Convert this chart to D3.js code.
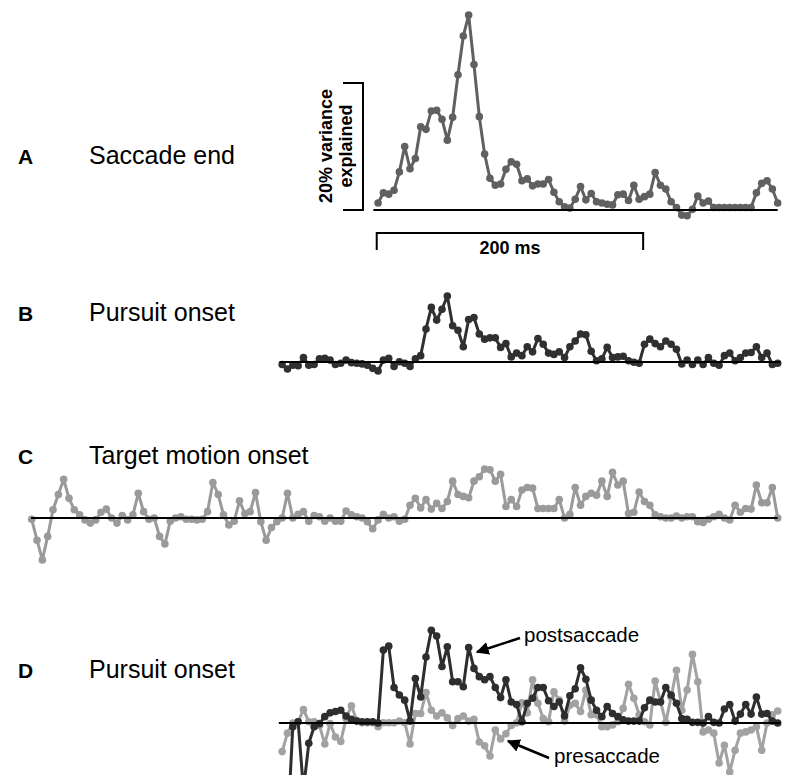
<!DOCTYPE html>
<html>
<head>
<meta charset="utf-8">
<script src="https://cdn.jsdelivr.net/npm/d3@7"></script>
<style>
body { margin: 0; background: #fff; }
svg { display: block; font-family: "Liberation Sans", Arial, sans-serif; }
</style>
</head>
<body>
<div id="chartHolder"></div>
<script>
// bins are 4 ms wide, values are % variance explained
const binMs = 4;
const panelLabels = ["A", "B", "C", "D"];
const panelTitles = ["Saccade end", "Pursuit onset", "Target motion onset", "Pursuit onset"];
const startMs = { saccadeEnd: 260, pursuitOnset: 188, targetOnset: 0, pursuitPre: 188, pursuitPost: 188 };

const saccadeEnd = [1.1, 2.7, 2.5, 3.1, 6.0, 10.0, 6.5, 8.1, 13.1, 12.7,
  15.6, 15.7, 14.3, 11.0, 14.6, 21.3, 27.4, 30.7, 22.9, 14.7,
  8.8, 5.0, 3.9, 4.1, 6.4, 7.6, 7.2, 4.6, 4.9, 3.8,
  4.1, 4.1, 4.8, 2.8, 1.3, 0.5, 0.3, 1.7, 3.7, 1.6,
  2.6, 1.3, 1.1, 0.9, 0.8, 2.4, 2.5, 1.5, 3.9, 1.7,
  2.1, 2.5, 5.9, 3.9, 3.3, 1.3, 0.4, -0.8, -0.9, 0.1,
  2.2, 1.1, 1.4, 0.4, 0.4, 0.4, 0.4, 0.4, 0.4, 0.4,
  0.4, 2.7, 4.2, 4.6, 3.3, 1.1];

const pursuitOnset = [-0.4, -1.1, -0.5, -0.6, 0.7, -0.5, -0.4, 0.5, 0.6, 0.3,
  -0.4, -0.2, 0.3, -0.1, -0.2, -0.3, -0.5, -1.0, -1.4, 0.3,
  0.6, -0.7, 0.05, -0.2, -0.7, 0.5, 1.0, 5.2, 8.6, 6.6,
  8.3, 10.4, 5.7, 5.0, 2.4, 6.7, 7.0, 4.4, 3.6, 3.8,
  3.8, 2.3, 2.9, 0.8, 1.4, 1.0, 2.4, 1.6, 3.7, 2.8,
  1.4, 1.2, 1.6, 0.7, 2.4, 3.3, 4.4, 4.3, 1.7, 0.2,
  0.5, 2.3, 0.7, 0.8, 0.9, 0.2, -0.05, -0.2, 2.8, 3.6,
  2.9, 2.4, 3.3, 2.8, 2.0, -0.3, 0.3, -0.4, 0.3, -0.4,
  0.7, -0.2, -0.5, 1.0, 1.4, 0.2, 0.7, 1.4, 1.5, 2.4,
  0.7, 1.4, -0.4, -0.2];

const targetOnset = [-0.2, -3.5, -6.6, -2.9, 1.3, 3.7, 6.1, 3.1, 1.3, 0.5,
  -0.3, -0.8, -0.3, 0.9, 1.4, 0, -0.8, 0.4, -0.3, 0.5,
  3.9, 1.0, -0.2, 0, -2.9, -4.1, -0.5, 0, 0.2, -0.2,
  -0.2, -0.3, -0.2, 1.0, 5.6, 3.7, 0.5, -1.1, -0.5, 2.7,
  0.7, 1.0, 4.0, -0.6, -3.5, -1.5, -0.6, 0, 3.9, 0,
  0.6, 1.0, -0.5, 0.4, 0.2, -0.5, 0, -0.5, -0.5, 1.1,
  0.5, 0.2, 0, -0.6, -1.7, -0.3, 0.6, 0, 0.2, -0.5,
  -0.2, 2.0, 3.1, 1.6, 2.9, 1.4, 2.3, 1.5, 2.6, 5.8,
  3.7, 3.4, 3.2, 5.8, 6.5, 7.7, 7.6, 5.8, 6.9, 1.8,
  2.9, 1.8, 4.4, 4.8, 4.7, 1.5, 1.5, 1.5, 1.5, 2.9,
  0, 0.6, 4.8, 2.0, 3.4, 3.9, 3.6, 5.8, 3.4, 7.2,
  5.2, 5.8, 0.7, 0.9, 4.1, 2.6, 2.0, 0.5, 0.2, 0,
  0, 0.3, 0, 0.2, 0.2, -0.6, -0.7, -0.2, 0.2, 0.6,
  0, -0.3, 2.0, 0.9, 1.5, 1.4, 5.2, 2.4, 2.4, 4.8, 0];

const pursuitPre = [-4.5, -1.6, 0, 0.2, 2.1, 0.2, 0.2, -0.4, -3.3, -0.1,
  -2.2, -2.9, 0.7, 2.7, 0.4, 0.05, 0.05, 0.05, -0.6, 0.05,
  0.05, 0.05, 0.3, 0.05, -3.3, 1.5, 1.5, 4.8, 2.0, 1.1,
  1.6, 0.8, -0.4, 0.7, 1.1, 0.3, 0.6, -3.0, -3.6, -5.2,
  -1.1, -2.5, -1.7, -0.4, 0.05, 3.2, 1.6, 6.8, 3.1, 0.7,
  0.2, 4.9, 3.6, 0.3, 2.8, 3.1, 1.8, 5.2, 1.3, 1.3,
  -0.6, -0.6, -0.3, 0.2, 2.3, 6.1, 3.9, 1.3, 0.2, -0.3,
  6.6, 3.4, 0.1, 4.1, 8.3, 2.0, 5.2, 10.8, 6.5, -1.4,
  -1.1, -1.6, -6.3, -3.5, -7.7, -4.3, -1.6, -1.4, -1.1, -0.6,
  -4.3, 0, 1.3, 1.9];

const pursuitPost = [-15, -17, -0.6, 0.2, -10.5, -3.2, -0.6, -0.1, 1.0, 1.6,
  1.8, 2.0, 1.1, 0.6, 0.3, 0.2, 0.2, 0.2, 0, 11.5,
  12.1, 5.6, 4.4, 3.6, 0.3, 7.0, 4.1, 10.4, 14.6, 13.7,
  8.9, 12.0, 6.5, 6.5, 5.7, 11.9, 8.6, 7.3, 6.8, 7.3,
  5.6, 4.0, 6.8, 3.3, 2.9, 0.2, 3.1, 3.9, 5.6, 5.6,
  3.5, 2.6, 3.3, 1.1, 4.3, 5.4, 8.7, 6.9, 3.6, 2.0,
  1.0, 2.6, 1.5, 1.0, 0.5, 0.3, 0.3, 0.3, 2.4, 3.6,
  3.3, 3.3, 5.6, 4.4, 3.1, 0.7, 0.6, 0.1, 0.1, 0,
  1.0, 0.1, 0, 2.2, 2.9, 0.3, 1.4, 2.9, 1.4, 4.1,
  1.4, 1.5, 0.3, 0];

const scaleBarMs = 200;
const scaleBarPct = 20;

function GetChart() {
  const width = 800;
  const height = 784;
  const svg = d3.select("#chartHolder")
    .append("svg")
    .attr("width", width)
    .attr("height", height);

  const xScale = d3.scaleLinear().domain([0, 560]).range([31.7, 777.7]);
  const baselines = [210, 362, 518, 723];
  const yFor = y0 => d3.scaleLinear().domain([0, 20]).range([y0, y0 - 127]);
  const yScales = baselines.map(yFor);

  // clip the bottom panel at the page edge
  svg.append("clipPath").attr("id", "clipD")
    .append("rect").attr("x", 0).attr("y", 560).attr("width", width).attr("height", 215);

  function drawTrace(values, start, yScale, color, clip) {
    const pts = values.map((v, i) => [xScale(start + i * binMs), yScale(v)]);
    const g = svg.append("g");
    if (clip) g.attr("clip-path", "url(#clipD)");
    g.append("path")
      .attr("d", d3.line()(pts))
      .attr("fill", "none")
      .attr("stroke", color)
      .attr("stroke-width", 3)
      .attr("stroke-linejoin", "round");
    g.selectAll("circle")
      .data(pts)
      .enter()
      .append("circle")
      .attr("cx", d => d[0])
      .attr("cy", d => d[1])
      .attr("r", 3.8)
      .attr("fill", color);
  }

  function baseline(y0, fromMs, toMs) {
    svg.append("line")
      .attr("x1", xScale(fromMs)).attr("x2", xScale(toMs))
      .attr("y1", y0).attr("y2", y0)
      .attr("stroke", "#000").attr("stroke-width", 2.2);
  }

  //traces
  drawTrace(saccadeEnd, startMs.saccadeEnd, yScales[0], "#606060");
  drawTrace(pursuitOnset, startMs.pursuitOnset, yScales[1], "#303030");
  drawTrace(targetOnset, startMs.targetOnset, yScales[2], "#9a9a9a");
  drawTrace(pursuitPre, startMs.pursuitPre, yScales[3], "#a2a2a2", true);
  drawTrace(pursuitPost, startMs.pursuitPost, yScales[3], "#2e2e2e", true);

  baseline(baselines[0], 256.5, 560);
  baseline(baselines[1], 186, 562);
  baseline(baselines[2], -0.5, 560);
  baseline(baselines[3], 185.5, 562);

  //panel labels
  const labelY = [164, 321, 464, 678];
  panelLabels.forEach((l, i) => {
    svg.append("text")
      .attr("x", 18).attr("y", labelY[i])
      .style("font-size", "21px").style("font-weight", "bold")
      .text(l);
    svg.append("text")
      .attr("x", 89).attr("y", labelY[i])
      .style("font-size", "25px")
      .text(panelTitles[i]);
  });

  //scale bars
  const yA = yScales[0];
  const vx = 363;
  svg.append("path")
    .attr("d", `M${vx - 20},${yA(scaleBarPct)}H${vx}V${yA(0)}H${vx - 20}`)
    .attr("fill", "none").attr("stroke", "#000").attr("stroke-width", 2);
  svg.append("text")
    .attr("transform", `translate(332,146) rotate(-90)`)
    .attr("text-anchor", "middle")
    .style("font-size", "18px").style("font-weight", "bold")
    .text(scaleBarPct + "% variance");
  svg.append("text")
    .attr("transform", `translate(352,146) rotate(-90)`)
    .attr("text-anchor", "middle")
    .style("font-size", "18px").style("font-weight", "bold")
    .text("explained");

  const hx0 = xScale(259), hx1 = xScale(259 + scaleBarMs);
  svg.append("path")
    .attr("d", `M${hx0},250V233H${hx1}V250`)
    .attr("fill", "none").attr("stroke", "#000").attr("stroke-width", 2);
  svg.append("text")
    .attr("x", (hx0 + hx1) / 2).attr("y", 254)
    .attr("text-anchor", "middle")
    .style("font-size", "18px").style("font-weight", "bold")
    .text(scaleBarMs + " ms");

  //annotations
  svg.append("defs").append("marker")
    .attr("id", "arrow")
    .attr("viewBox", "0 0 10 10")
    .attr("refX", 9).attr("refY", 5)
    .attr("markerWidth", 5).attr("markerHeight", 5)
    .attr("markerUnits", "strokeWidth")
    .attr("orient", "auto")
    .append("path").attr("d", "M0,0L10,5L0,10Z").attr("fill", "#000");

  svg.append("line")
    .attr("x1", 520).attr("y1", 638).attr("x2", 477).attr("y2", 652)
    .attr("stroke", "#000").attr("stroke-width", 2.6).attr("marker-end", "url(#arrow)");
  svg.append("text")
    .attr("x", 524).attr("y", 642)
    .style("font-size", "20.5px")
    .text("postsaccade");

  svg.append("line")
    .attr("x1", 549).attr("y1", 758).attr("x2", 508).attr("y2", 741)
    .attr("stroke", "#000").attr("stroke-width", 2.6).attr("marker-end", "url(#arrow)");
  svg.append("text")
    .attr("x", 554).attr("y", 763)
    .style("font-size", "20.5px")
    .text("presaccade");
}
GetChart();
</script>
</body>
</html>
